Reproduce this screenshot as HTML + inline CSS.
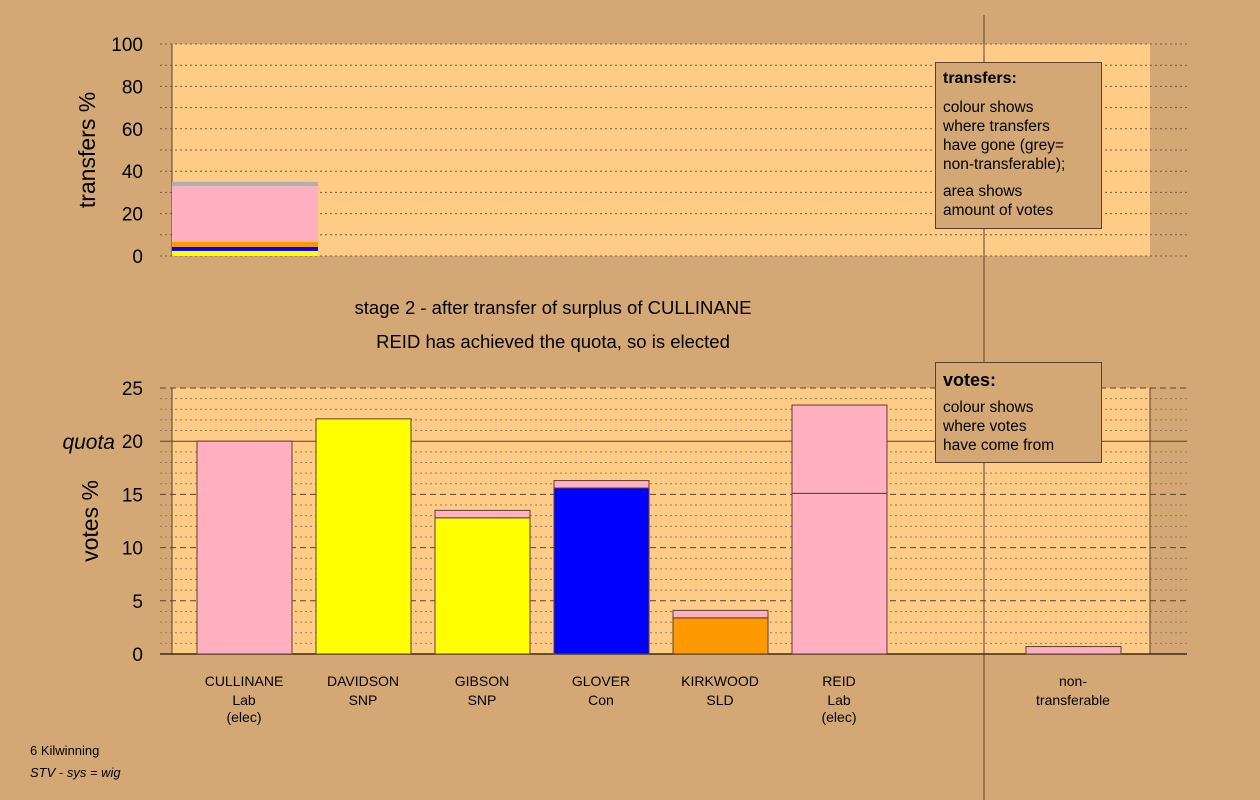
<!DOCTYPE html>
<html><head><meta charset="utf-8"><style>
html,body{margin:0;padding:0;background:#d4a874;}
svg{display:block;font-family:"Liberation Sans",sans-serif;}
</style></head><body>
<svg id="c" width="1260" height="800" viewBox="0 0 1260 800">
<rect width="1260" height="800" fill="#d4a874"/>
<g id="top"></g>
<g id="bot"></g>
<line x1="984" y1="15" x2="984" y2="800" stroke="#5a4030" stroke-width="1"/>
<g>
<rect x="935.5" y="62.5" width="166" height="166" fill="#d4a874" stroke="#5a4030"/>
<text x="943" y="83" font-size="16" font-weight="bold">transfers:</text>
<text font-size="15.5"><tspan x="943" y="112">colour shows</tspan><tspan x="943" y="131">where transfers</tspan><tspan x="943" y="150">have gone (grey=</tspan><tspan x="943" y="169">non-transferable);</tspan><tspan x="943" y="196">area shows</tspan><tspan x="943" y="215">amount of votes</tspan></text>
</g>
<g>
<rect x="935.5" y="362.5" width="166" height="100" fill="#d4a874" stroke="#5a4030"/>
<text x="943" y="386" font-size="18" font-weight="bold">votes:</text>
<text font-size="15.5"><tspan x="943" y="412">colour shows</tspan><tspan x="943" y="431">where votes</tspan><tspan x="943" y="450">have come from</tspan></text>
</g>
<text x="553" y="314" font-size="18.5" text-anchor="middle">stage 2 - after transfer of surplus of CULLINANE</text>
<text x="553" y="348" font-size="18.5" text-anchor="middle">REID has achieved the quota, so is elected</text>
<text x="30" y="755" font-size="13">6 Kilwinning</text>
<text x="30" y="777" font-size="13" font-style="italic">STV - sys = wig</text>
</svg>
<script>
const topTicks=[0,20,40,60,80,100];
const transferParties=["DAVIDSON/GIBSON","GLOVER","KIRKWOOD","REID","non-transferable"];
const transferValues=[2.4,1.9,2.3,26.4,2.0];
const transferColors=["#ffff00","#0000ff","#ff9900","#ffb0c0","#b0b0b0"];
const botTicks=[0,5,10,15,20,25];
const candidates=["CULLINANE","DAVIDSON","GIBSON","GLOVER","KIRKWOOD","REID","","non-transferable"];
const candLine2=["Lab","SNP","SNP","Con","SLD","Lab","",""];
const candLine3=["(elec)","","","","","(elec)","",""];
const baseVotes=[20,22.1,12.8,15.6,3.4,15.1,0,0];
const transferVotes=[0,0,0.7,0.7,0.7,8.3,0,0.7];
const baseColors=["#ffb0c0","#ffff00","#ffff00","#0000ff","#ff9900","#ffb0c0","",""];
const quota=20;

const NS="http://www.w3.org/2000/svg";
function mk(p,t,a){const e=document.createElementNS(NS,t);for(const k in a)e.setAttribute(k,a[k]);p.appendChild(e);return e;}
const X0=172,X1=1150;
// top chart
const tg=document.getElementById('top');
const ty=v=>256-v*2.12;
const tr=mk(tg,'rect',{x:X0,y:44,width:X1-X0,height:212,fill:'#ffcc88'});


for(let v=0;v<=100;v+=10){const l=mk(tg,'line',{x1:160,x2:1187,y1:ty(v),y2:ty(v),stroke:'#7a5a3a','stroke-dasharray':'2,3'});

}
mk(tg,'line',{x1:X0,x2:X0,y1:44,y2:256,stroke:'#5a4030'});
let acc=0;
transferValues.forEach((v,i)=>{const r=mk(tg,'rect',{x:X0,y:ty(acc+v),width:146,height:v*2.12,fill:transferColors[i]});

acc+=v;});
topTicks.forEach(v=>{const t=mk(tg,'text',{x:143,y:ty(v)+7,'font-size':19,'text-anchor':'end'});t.textContent=v;

});
const tt=mk(tg,'text',{transform:'translate(95,150) rotate(-90)','font-size':23,'text-anchor':'middle'});tt.textContent='transfers %';


// bottom chart
const bg=document.getElementById('bot');
const by=v=>654-v*10.64;
const br=mk(bg,'rect',{x:X0,y:by(25),width:X1-X0,height:by(0)-by(25),fill:'#ffcc88'});


for(let v=0;v<=25;v++){let a={x1:160,x2:1187,y1:by(v),y2:by(v),stroke:'#5a4030'};
if(v==quota){}else if(v%5==0){a['stroke-dasharray']='6,4';}else{a['stroke-dasharray']='2,3';a.stroke='#9a7a5a';}
const l=mk(bg,'line',a);

}
mk(bg,'line',{x1:X0,x2:X0,y1:by(25),y2:by(0),stroke:'#5a4030'});
mk(bg,'line',{x1:X1,x2:X1,y1:by(25),y2:by(0),stroke:'#5a4030'});
mk(bg,'line',{x1:160,x2:1187,y1:by(0),y2:by(0),stroke:'#3a2a1a','stroke-width':1.5});
candidates.forEach((c,i)=>{const cx=244+i*119+(i==7?-4:0);const x=cx-47;
if(baseVotes[i]>0){const r=mk(bg,'rect',{x:x,y:by(baseVotes[i]),width:95,height:baseVotes[i]*10.64,fill:baseColors[i],stroke:'#5a4030'});

}
if(transferVotes[i]>0){const r=mk(bg,'rect',{x:x,y:by(baseVotes[i]+transferVotes[i]),width:95,height:transferVotes[i]*10.64,fill:'#ffb0c0',stroke:'#5a4030'});

}
if(c){const t=mk(bg,'text',{x:cx,y:686,'font-size':14,'text-anchor':'middle'});
if(c=="non-transferable"){t.innerHTML='<tspan x="'+cx+'" y="686">non-</tspan><tspan x="'+cx+'" y="705">transferable</tspan>';}
else t.innerHTML='<tspan x="'+cx+'" y="686">'+c+'</tspan><tspan x="'+cx+'" y="705">'+candLine2[i]+'</tspan><tspan x="'+cx+'" y="722">'+candLine3[i]+'</tspan>';

}
});
botTicks.forEach(v=>{const t=mk(bg,'text',{x:143,y:by(v)+7,'font-size':19,'text-anchor':'end'});t.textContent=v;

});
const q=mk(bg,'text',{x:115,y:by(quota)+8,'font-size':21,'font-style':'italic','text-anchor':'end'});q.textContent='quota';


const bt=mk(bg,'text',{transform:'translate(98,521) rotate(-90)','font-size':23,'text-anchor':'middle'});bt.textContent='votes %';


</script>
</body></html>
